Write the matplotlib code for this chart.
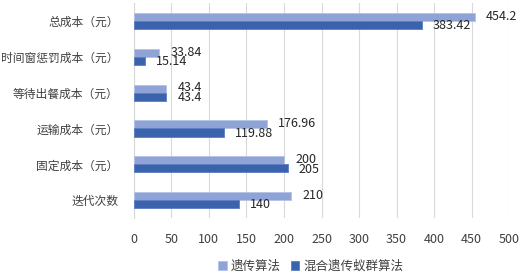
import matplotlib.pyplot as plt
import numpy as np

plt.rcParams['font.family'] = ['Noto Sans CJK SC', 'DejaVu Sans']

categories = ['迭代次数', '固定成本（元）', '运输成本（元）', '等待出餐成本（元）', '时间窗惩罚成本（元）', '总成本（元）']
ga = [210, 200, 176.96, 43.4, 33.84, 454.2]
hybrid = [140, 205, 119.88, 43.4, 15.14, 383.42]
ga_labels = ['210', '200', '176.96', '43.4', '33.84', '454.2']
hybrid_labels = ['140', '205', '119.88', '43.4', '15.14', '383.42']

c_ga = '#8FA3D7'
c_hy = '#3A62AD'

fig = plt.figure(figsize=(5.31, 2.76), dpi=100)
ax = fig.add_axes([0.252, 0.21, 0.707, 0.779])

y = np.arange(len(categories))
h = 0.225
ax.barh(y + h / 2, ga, h, color=c_ga, edgecolor='#B4C2E6', linewidth=0.6, label='遗传算法', zorder=3)
ax.barh(y - h / 2, hybrid, h, color=c_hy, edgecolor='#5A7EC4', linewidth=0.6, label='混合遗传蚁群算法', zorder=3)

for yi, v, t in zip(y, ga, ga_labels):
    ax.annotate(t, (v, yi + h / 2 + 0.02), xytext=(8, 0), textcoords='offset points',
                va='center', ha='left', fontsize=9, color='#262626')
for yi, v, t in zip(y, hybrid, hybrid_labels):
    ax.annotate(t, (v, yi - h / 2 - 0.02), xytext=(8, 0), textcoords='offset points',
                va='center', ha='left', fontsize=9, color='#262626')

ax.set_xlim(0, 500)
ax.set_ylim(-0.5, 5.5)
ax.set_xticks(np.arange(0, 501, 50))
ax.set_yticks(y)
ax.set_yticklabels(categories)
ax.tick_params(axis='x', length=0, labelsize=9, colors='#404040', pad=11)
ax.tick_params(axis='y', length=0, labelsize=8.5, colors='#404040', pad=11)
ax.grid(axis='x', color='#D9D9D9', linewidth=0.8, zorder=0)
for s in ['top', 'right', 'bottom']:
    ax.spines[s].set_visible(False)
ax.spines['left'].set_color('#D9D9D9')

fig.legend(loc='lower center', bbox_to_anchor=(0.585, -0.03), ncol=2, frameon=False,
           fontsize=9, handlelength=0.7, handleheight=0.7, handletextpad=0.3,
           columnspacing=0.8, labelcolor='#404040')

fig.savefig('out.png', dpi=100)
